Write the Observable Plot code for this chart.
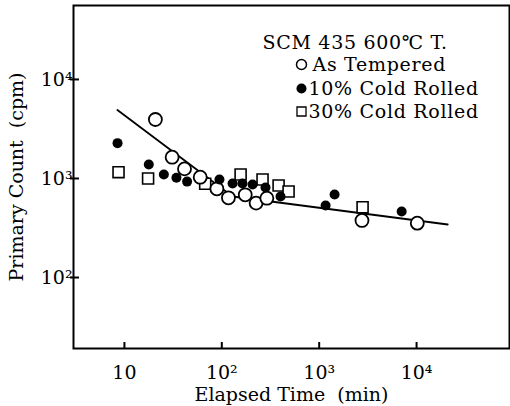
<!DOCTYPE html>
<html>
<head>
<meta charset="utf-8">
<script src="https://cdn.jsdelivr.net/npm/d3@7"></script>
<script src="https://cdn.jsdelivr.net/npm/@observablehq/plot@0.6"></script>
<style>
  html, body { margin: 0; padding: 0; background: white; }
  .legend text { letter-spacing: 0.7px; }
</style>
</head>
<body>
<div id="chart"></div>
<script>
// ---- data ----
const asTemperedTime  = [20.8, 30.9, 41.4, 60, 89, 117, 174, 225, 290, 2750, 10170];
const asTemperedCount = [3940, 1640, 1250, 1030, 787, 638, 684, 564, 632, 377, 354];

const cold10Time  = [8.5, 17.8, 25.4, 34.2, 44, 94.6, 129, 163, 207, 281, 401, 1164, 1439, 7030];
const cold10Count = [2275, 1384, 1097, 1016, 930, 977, 890, 890, 870, 811, 658, 533, 689, 464];

const cold30Time  = [8.7, 17.5, 67.5, 156, 262, 383, 485, 2790];
const cold30Count = [1158, 1000, 884, 1098, 977, 850, 739, 513];

const trendTime  = [8.47, 129, 20900];
const trendCount = [4920, 658, 343];

const xTickValues = [10, 100, 1000, 10000];
const yTickValues = [100, 1000, 10000];

const legendTitle = "SCM 435 600\u2103 T.";
const legendLabels = ["As Tempered", "10% Cold Rolled", "30% Cold Rolled"];

// ---- build tables ----
const zip = (t, c) => t.map((v, i) => ({t: v, c: c[i]}));
const asTempered = zip(asTemperedTime, asTemperedCount);
const cold10 = zip(cold10Time, cold10Count);
const cold30 = zip(cold30Time, cold30Count);
const trend = zip(trendTime, trendCount);

const sup = {1: "\u00B9", 2: "\u00B2", 3: "\u00B3", 4: "\u2074"};
const fmt = v => {
  const e = Math.round(Math.log10(v));
  return e === 1 ? "10" : "10" + sup[e];
};

const font = "'DejaVu Serif', 'Liberation Serif', serif";

const W = 510, H = 406, mL = 73, mR = 1, mT = 5, mB = 58;
const frameW = W - mL - mR, frameH = H - mT - mB;

// legend styling per row
const legendSym = [
  {symbol: "circle", r: 5, fill: "white", stroke: "black", strokeWidth: 1.5},
  {symbol: "circle", r: 5, fill: "black", stroke: "none", strokeWidth: 0},
  {symbol: "square", r: 5.1, fill: "white", stroke: "black", strokeWidth: 1.3}
];
const legendRowDy = [59, 83, 106];
const legendTextDx = [239, 235, 235];

const legendMarks = legendLabels.flatMap((lab, i) => [
  Plot.dot([lab], {frameAnchor: "top-left", dx: 228, dy: legendRowDy[i], ...legendSym[i]}),
  Plot.text([lab], {text: d => d, frameAnchor: "top-left", dx: legendTextDx[i], dy: legendRowDy[i],
                    textAnchor: "start", lineAnchor: "middle", fontSize: 19, className: "legend"})
]);

const chart = Plot.plot({
  width: W,
  height: H,
  marginLeft: mL,
  marginRight: mR,
  marginTop: mT,
  marginBottom: mB,
  style: {fontFamily: font, fontSize: "19px", background: "white", color: "black", overflow: "visible"},
  x: {type: "log", domain: [3, 90000]},
  y: {type: "log", domain: [19.2, 55800]},
  marks: [
    // axes (labels only)
    Plot.axisX({ticks: xTickValues, tickSize: 0, tickPadding: 17, tickFormat: fmt, fontSize: 19,
                label: "Elapsed Time  (min)", labelAnchor: "center", labelArrow: "none", labelOffset: 52}),
    Plot.axisY({ticks: yTickValues, tickSize: 0, tickPadding: 1, tickFormat: fmt, fontSize: 19,
                label: "Primary Count  (cpm)", labelAnchor: "center", labelArrow: "none", labelOffset: 64}),
    // inward tick marks
    Plot.tickX(xTickValues, {x: d => d, insetTop: frameH - 6, stroke: "black", strokeWidth: 2}),
    Plot.tickY(yTickValues, {y: d => d, insetRight: frameW - 6, insetLeft: -3, stroke: "black", strokeWidth: 2}),
    Plot.frame({stroke: "black", strokeWidth: 2}),

    // trend line
    Plot.line(trend, {x: "t", y: "c", stroke: "black", strokeWidth: 1.8}),

    // data
    Plot.dot(cold30, {x: "t", y: "c", symbol: "square", r: 6.2, fill: "white", stroke: "black", strokeWidth: 1.6}),
    Plot.dot(asTempered, {x: "t", y: "c", symbol: "circle", r: 6.5, fill: "white", stroke: "black", strokeWidth: 1.8}),
    Plot.dot(cold10, {x: "t", y: "c", symbol: "circle", r: 5, fill: "black"}),

    // legend
    Plot.text([legendTitle], {text: d => d, frameAnchor: "top-left", dx: 189, dy: 37, textAnchor: "start",
                              lineAnchor: "middle", fontSize: 19, className: "legend"}),
    ...legendMarks
  ]
});

document.getElementById("chart").appendChild(chart);
</script>
</body>
</html>
